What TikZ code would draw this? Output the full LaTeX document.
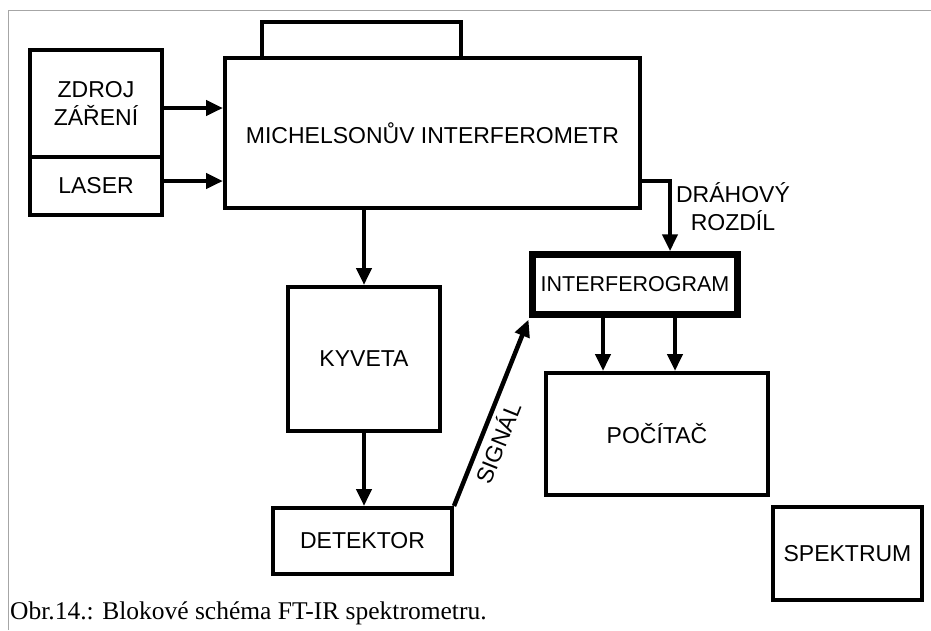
\documentclass[tikz,border=0pt]{standalone}
\usepackage{fontspec}
\setmainfont{Liberation Serif}
\setsansfont{Liberation Sans}
\usetikzlibrary{arrows.meta,positioning}

\begin{document}
\begin{tikzpicture}[
    x=1pt, y=-1pt,
    box/.style={rectangle, draw, line width=4pt, inner sep=1pt, align=center, font=\sffamily\fontsize{23}{28}\selectfont},
    thickbox/.style={box, line width=6.5pt, font=\sffamily\fontsize{21.5}{26}\selectfont},
    arrow/.style={-{Triangle[length=17pt,width=15pt]}, line width=4.5pt},
    lbl/.style={font=\sffamily\fontsize{23}{28}\selectfont, align=center}
  ]
    \useasboundingbox (0,0) rectangle (931,630);
    \draw[gray!70, line width=0.8pt] (8,630) -- (8,10) -- (931,10);

    % blocks
    \node[box, minimum width=132pt, minimum height=107pt] (zdroj) at (96,103.5) {ZDROJ\\ZÁŘENÍ};
    \node[box, minimum width=132pt, minimum height=58pt] (laser) at (96,186) {LASER};
    \node[box, minimum width=415pt, minimum height=150pt] (michelson) at (432.5,133) {MICHELSONŮV INTERFEROMETR};
    \node[box, minimum width=199pt, minimum height=36pt] (zrcadlo) at (361.5,40) {};
    \node[box, minimum width=152pt, minimum height=144pt] (kyveta) at (364,359) {KYVETA};
    \node[box, minimum width=179pt, minimum height=66pt] (detektor) at (362.5,541) {DETEKTOR};
    \node[thickbox, minimum width=205pt, minimum height=60pt] (interferogram) at (635,284.5) {INTERFEROGRAM};
    \node[box, minimum width=222pt, minimum height=122pt] (pocitac) at (657,434) {POČÍTAČ};
    \node[box, minimum width=149pt, minimum height=93pt] (spektrum) at (847.5,553.5) {SPEKTRUM};
    \node[lbl] (drahovy) at (733,207) {DRÁHOVÝ\\ROZDÍL};

    % connections
    \draw[arrow] ([yshift=-4.5pt]zdroj.east) -- ([yshift=-4.5pt]zdroj.east -| michelson.west);
    \draw[arrow] ([yshift=5pt]laser.east) -- ([yshift=5pt]laser.east -| michelson.west);
    \draw[arrow] (kyveta.north |- michelson.south) -- (kyveta.north);
    \draw[arrow] (kyveta.south) -- (kyveta.south |- detektor.north);
    \draw[arrow] ([yshift=29pt]michelson.south east) -| ([xshift=35pt]interferogram.north);
    \draw[arrow, shorten >=2pt] (detektor.north east) -- node[pos=0.37, sloped, below=1pt, lbl] (signal) {SIGNÁL} (interferogram.south west);
    \foreach \dx in {-32,40}
      \draw[arrow] ([xshift=\dx pt]interferogram.south) -- ([xshift=\dx pt]interferogram.south |- pocitac.north);

    \node[anchor=base west, inner sep=0pt, font=\rmfamily\fontsize{25.5}{30}\selectfont] (popis) at (10,619) {Obr.14.: Blokové schéma FT-IR spektrometru.};
  \end{tikzpicture}
\end{document}
